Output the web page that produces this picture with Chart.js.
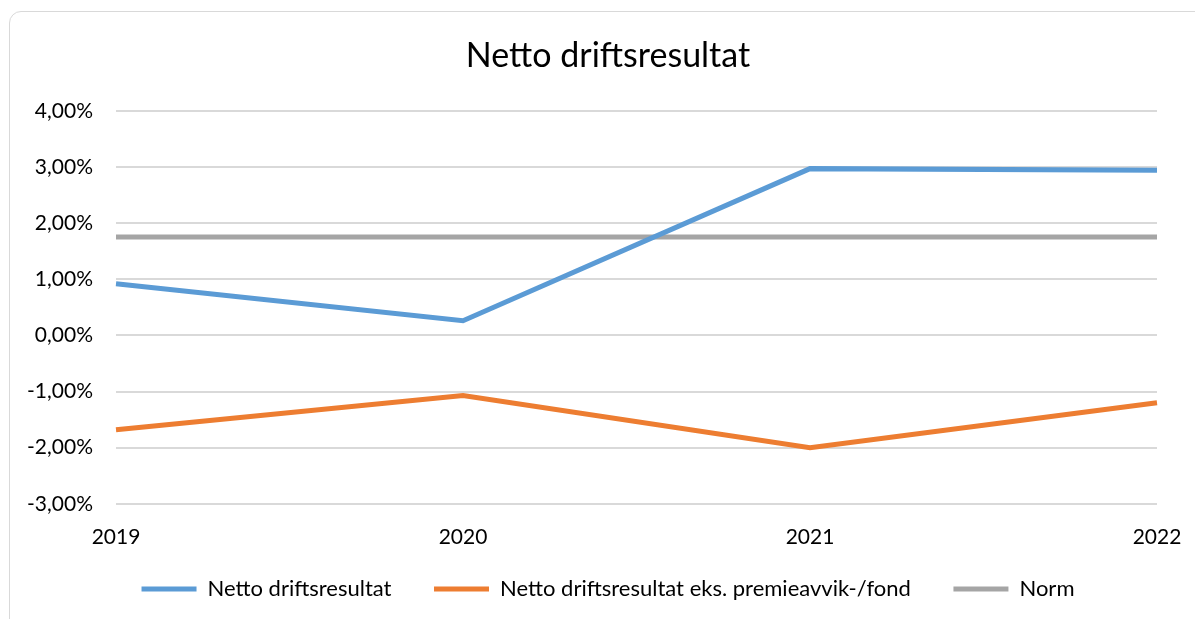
<!DOCTYPE html>
<html>
<head>
<meta charset="utf-8">
<script src="https://cdn.jsdelivr.net/npm/chart.js@4"></script>
<style>
    html, body { margin: 0; padding: 0; background: #fff; }
    #frame {
        position: absolute; left: 9px; top: 11px;
        width: 1200px; height: 620px;
        border: 1px solid #d9d9d9; border-radius: 12px;
    }
    #wrap { position: absolute; left: 0; top: 0; width: 1195px; height: 619px; }
</style>
</head>
<body>
<div id="frame"></div>
<div id="wrap"><canvas id="chart" width="1195" height="619"></canvas></div>
<script>
// Data
const years = ['2019', '2020', '2021', '2022'];
const nettoDrift = [0.92, 0.26, 2.97, 2.94];
const nettoEksPremie = [-1.68, -1.07, -2.00, -1.20];
const norm = [1.75, 1.75, 1.75, 1.75];

const FONT = 'Lato, "Open Sans", sans-serif';

// y labels stick out left of the padded layout, so widen the label clip area
const widenYAxis = {
    id: 'widenYAxis',
    afterLayout(chart) {
        chart.scales.y.left = 0;
    }
};

const ctx = document.getElementById('chart');

new Chart(ctx, {
    type: 'line',
    data: {
        labels: years,
        datasets: [
            {
                label: 'Netto driftsresultat',
                data: nettoDrift,
                borderColor: '#5b9bd5',
                backgroundColor: '#5b9bd5',
                borderWidth: 5,
                pointRadius: 0,
                tension: 0
            },
            {
                label: 'Netto driftsresultat eks. premieavvik-/fond',
                data: nettoEksPremie,
                borderColor: '#ed7d31',
                backgroundColor: '#ed7d31',
                borderWidth: 5,
                pointRadius: 0,
                tension: 0
            },
            {
                label: 'Norm',
                data: norm,
                borderColor: '#a5a5a5',
                backgroundColor: '#a5a5a5',
                borderWidth: 5,
                pointRadius: 0,
                tension: 0
            }
        ]
    },
    plugins: [widenYAxis],
    options: {
        responsive: false,
        animation: false,
        layout: {
            padding: { left: 59, right: 38, top: 0, bottom: 9 }
        },
        plugins: {
            title: {
                display: true,
                text: 'Netto driftsresultat',
                color: '#000',
                font: { family: FONT, size: 34, weight: 'normal' },
                padding: { top: 36, bottom: 34 }
            },
            legend: {
                position: 'bottom',
                labels: {
                    color: '#000',
                    font: { family: FONT, size: 22 },
                    usePointStyle: true,
                    pointStyle: 'line',
                    pointStyleWidth: 55,
                    padding: 15,
                    generateLabels(chart) {
                        const items = Chart.defaults.plugins.legend.labels.generateLabels(chart);
                        items.forEach((item, i) => {
                            if (i < items.length - 1) item.text += '\u2003\u2002';
                        });
                        return items;
                    }
                }
            },
            tooltip: { enabled: false }
        },
        scales: {
            x: {
                offset: false,
                grid: { display: false },
                border: { display: false },
                ticks: {
                    color: '#000',
                    font: { family: FONT, size: 21 },
                    padding: 13,
                    maxRotation: 0
                }
            },
            y: {
                min: -3,
                max: 4,
                grid: { color: '#d9d9d9', lineWidth: 2, drawTicks: false },
                border: { display: false },
                ticks: {
                    stepSize: 1,
                    color: '#000',
                    font: { family: FONT, size: 21 },
                    padding: 23,
                    callback: v => v.toFixed(2).replace('.', ',') + '%'
                },
                afterFit: scale => { scale.width = 57; }
            }
        }
    }
});
</script>
</body>
</html>
